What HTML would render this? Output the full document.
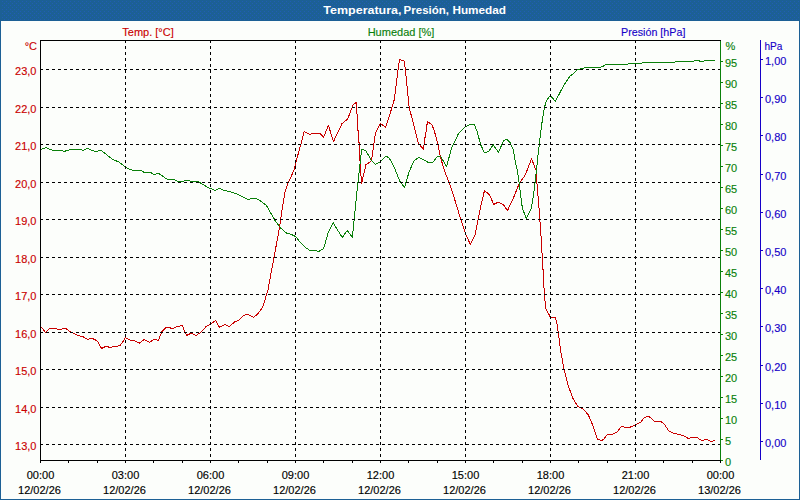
<!DOCTYPE html>
<html><head><meta charset="utf-8"><title>Temperatura, Presión, Humedad</title>
<style>
html,body{margin:0;padding:0;background:#fcfefb;}
body{width:800px;height:500px;overflow:hidden;position:relative;}
svg{position:absolute;left:0;top:0;display:block;}
text{font-family:"Liberation Sans",sans-serif;font-size:11px;}
.t{font-weight:bold;fill:#fff;}
.r{fill:#ca0000;stroke:#ca0000}.g{fill:#0a800a;stroke:#0a800a}.b{fill:#1600c8;stroke:#1600c8}.k{fill:#000;stroke:#000}
.r,.g,.b,.k{stroke-width:0.14px}
.e{text-anchor:end}.m{text-anchor:middle}
</style></head><body>
<svg width="800" height="500" viewBox="0 0 800 500">
<rect x="0" y="0" width="800" height="500" fill="#fcfefb"/>
<defs><pattern id="dz" x="0" y="1" width="4" height="4" patternUnits="userSpaceOnUse"><rect width="4" height="4" fill="#1c6095"/><rect x="2" y="0" width="1" height="1" fill="#215db4"/><rect x="0" y="2" width="1" height="1" fill="#215db4"/></pattern></defs>
<rect x="0" y="0" width="800" height="21" fill="#1c6095"/>
<rect x="1" y="1" width="798" height="19" fill="url(#dz)" shape-rendering="crispEdges"/>
<rect x="0" y="0" width="1" height="500" fill="#1c6095"/>
<rect x="799" y="0" width="1" height="500" fill="#1c6095"/>
<rect x="0" y="499" width="800" height="1" fill="#1c6095"/>
<g shape-rendering="crispEdges" fill="none" stroke-width="1" stroke-linejoin="round">
<polyline stroke="#ca0000" points="40.5,327.0 41.3,327.2 45.6,332.5 49.6,328.5 56.0,328.5 58.4,329.4 61.6,329.4 63.2,328.5 65.6,328.5 70.4,331.7 77.6,335.2 83.2,336.8 88.0,339.5 91.2,338.1 95.2,339.7 97.9,341.9 101.6,348.5 105.6,346.4 110.4,347.4 115.2,346.4 120.0,345.6 122.4,342.4 125.3,337.6 130.4,340.3 134.4,340.8 139.2,343.2 144.3,339.5 149.6,342.4 153.9,339.2 158.4,340.5 160.0,336.4 161.9,331.6 165.6,327.9 168.8,327.1 171.2,328.4 173.6,328.4 176.8,326.3 179.2,326.3 181.6,325.2 182.7,326.0 184.8,332.4 186.9,335.3 191.2,333.2 196.0,335.6 200.0,332.9 206.4,326.3 210.4,324.4 215.5,320.4 219.5,327.3 224.8,324.4 229.1,326.5 235.2,321.5 238.4,320.4 243.2,315.6 247.2,314.3 253.6,317.4 257.6,314.0 262.4,307.6 264.8,300.4 268.0,290.0 270.4,276.4 274.0,257.4 279.6,227.0 281.4,214.0 284.8,193.0 287.2,185.2 294.0,170.0 296.4,160.4 300.4,146.0 304.1,131.6 310.0,134.5 312.4,133.2 319.6,133.2 323.6,137.2 328.4,125.5 333.5,141.5 342.0,123.6 347.6,119.1 353.2,104.7 356.4,102.5 357.7,126.8 359.3,146.0 360.2,165.0 361.6,183.5 365.9,164.8 371.4,160.8 372.6,153.2 374.4,140.0 375.6,132.4 380.4,123.6 385.5,127.2 390.4,112.5 394.3,99.6 397.5,74.0 399.6,59.3 404.4,61.2 406.0,75.6 409.2,107.6 413.6,124.2 418.4,143.4 423.5,149.3 424.6,140.0 426.3,130.0 427.4,121.6 431.8,124.6 433.9,129.5 437.4,142.0 440.5,157.6 444.6,171.0 450.4,186.0 456.0,203.6 460.8,219.6 465.6,234.0 470.4,244.4 474.9,235.3 478.4,218.0 481.9,201.2 484.5,190.5 489.6,194.8 493.6,204.4 497.9,202.3 503.2,204.4 507.5,210.5 512.8,199.6 519.2,183.6 525.4,174.8 531.5,158.7 536.0,170.2 536.8,181.2 539.2,210.0 541.1,237.2 541.9,251.2 542.9,267.2 543.7,283.2 544.5,294.4 545.6,308.0 550.4,317.3 555.2,317.3 556.8,322.6 558.4,333.8 560.8,351.4 564.0,369.0 566.4,378.6 568.4,386.2 573.2,399.0 578.0,406.7 583.6,409.4 588.4,415.0 593.2,426.2 597.2,439.0 601.2,440.6 603.6,439.5 607.3,434.5 612.4,434.2 617.2,431.8 621.7,426.2 625.2,427.3 630.0,427.3 635.6,424.6 640.9,422.2 644.4,417.4 648.9,416.3 654.6,421.4 660.4,421.4 663.6,423.2 668.8,430.8 674.0,433.5 679.6,434.6 684.4,436.2 688.4,438.6 691.6,437.3 696.4,437.3 702.0,440.5 706.0,439.4 711.6,441.5 714.8,440.2"/>
<polyline stroke="#0a800a" points="40.5,149.6 41.3,149.4 46.1,147.5 49.6,149.4 52.8,150.2 60.8,150.2 64.0,151.5 67.2,150.5 72.0,149.4 80.0,149.4 82.9,150.5 87.2,148.3 92.0,150.5 96.8,151.5 100.8,150.2 104.0,152.6 112.0,159.0 119.2,162.2 125.6,167.0 129.6,169.4 134.4,170.5 140.8,170.5 144.0,172.3 150.4,172.3 153.9,174.5 158.4,173.4 161.9,175.6 167.2,179.3 173.6,179.3 178.4,181.5 182.4,182.0 185.6,180.1 188.5,180.1 191.2,181.5 197.6,181.5 201.6,183.6 208.0,187.6 215.2,190.3 219.5,188.1 224.0,190.5 229.6,191.6 236.0,193.5 241.6,196.4 247.2,199.3 249.6,199.3 252.8,198.0 256.0,198.5 260.8,201.2 266.4,205.5 270.6,212.8 275.4,221.0 281.2,228.6 286.5,233.1 291.6,234.5 295.6,236.6 299.6,241.4 306.0,247.8 310.0,250.5 315.6,250.5 318.8,251.5 323.6,248.6 328.4,231.8 333.2,222.7 337.2,229.4 342.3,237.4 347.3,230.5 352.4,237.4 354.2,219.5 356.0,200.8 357.9,183.2 360.0,164.0 361.6,149.4 365.8,150.4 368.8,156.0 371.5,160.6 375.6,164.3 380.5,161.8 386.2,156.0 389.4,158.2 395.2,169.6 400.0,181.6 404.5,187.5 408.8,172.8 413.8,161.0 418.8,157.2 428.0,162.3 432.8,162.3 437.6,156.2 440.8,156.7 446.6,166.4 451.6,148.0 458.4,133.8 465.6,126.6 470.4,124.2 474.4,124.5 476.8,130.6 480.8,145.0 484.5,153.0 488.8,151.4 493.1,144.7 498.4,152.2 503.6,140.8 506.8,139.0 510.2,142.8 513.4,150.2 515.4,162.2 517.6,172.0 519.2,183.6 522.4,208.4 526.4,218.5 531.5,207.6 534.4,188.4 536.3,172.0 537.6,159.0 540.0,138.2 542.4,119.5 544.6,106.8 546.6,100.6 550.4,95.4 555.4,101.4 563.2,86.4 569.6,76.5 572.8,74.1 577.6,69.6 586.4,67.5 599.2,67.5 603.2,66.1 606.4,64.5 627.2,64.5 628.8,63.5 641.6,63.5 643.2,62.4 674.4,62.4 676.0,61.4 693.6,61.4 695.2,60.4 698.4,60.4 700.0,61.4 703.2,61.4 704.8,60.4 714.9,60.4"/>
</g>
<g shape-rendering="crispEdges" stroke="#000" stroke-width="1" stroke-dasharray="3 3" fill="none">
<line x1="40" y1="69.5" x2="721" y2="69.5"/>
<line x1="40" y1="107.5" x2="721" y2="107.5"/>
<line x1="40" y1="144.5" x2="721" y2="144.5"/>
<line x1="40" y1="182.5" x2="721" y2="182.5"/>
<line x1="40" y1="219.5" x2="721" y2="219.5"/>
<line x1="40" y1="257.5" x2="721" y2="257.5"/>
<line x1="40" y1="294.5" x2="721" y2="294.5"/>
<line x1="40" y1="332.5" x2="721" y2="332.5"/>
<line x1="40" y1="369.5" x2="721" y2="369.5"/>
<line x1="40" y1="407.5" x2="721" y2="407.5"/>
<line x1="40" y1="444.5" x2="721" y2="444.5"/>
<line x1="125.5" y1="40" x2="125.5" y2="460"/>
<line x1="210.5" y1="40" x2="210.5" y2="460"/>
<line x1="295.5" y1="40" x2="295.5" y2="460"/>
<line x1="380.5" y1="40" x2="380.5" y2="460"/>
<line x1="465.5" y1="40" x2="465.5" y2="460"/>
<line x1="550.5" y1="40" x2="550.5" y2="460"/>
<line x1="635.5" y1="40" x2="635.5" y2="460"/>
</g>
<g shape-rendering="crispEdges">
<rect x="40" y="40" width="1" height="423" fill="#000"/>
<rect x="40" y="40" width="681" height="1" fill="#000"/>
<rect x="40" y="460" width="681" height="1" fill="#000"/>
<rect x="40" y="460" width="1" height="3" fill="#000"/>
<rect x="68" y="460" width="1" height="3" fill="#000"/>
<rect x="97" y="460" width="1" height="3" fill="#000"/>
<rect x="125" y="460" width="1" height="3" fill="#000"/>
<rect x="153" y="460" width="1" height="3" fill="#000"/>
<rect x="182" y="460" width="1" height="3" fill="#000"/>
<rect x="210" y="460" width="1" height="3" fill="#000"/>
<rect x="238" y="460" width="1" height="3" fill="#000"/>
<rect x="267" y="460" width="1" height="3" fill="#000"/>
<rect x="295" y="460" width="1" height="3" fill="#000"/>
<rect x="323" y="460" width="1" height="3" fill="#000"/>
<rect x="352" y="460" width="1" height="3" fill="#000"/>
<rect x="380" y="460" width="1" height="3" fill="#000"/>
<rect x="408" y="460" width="1" height="3" fill="#000"/>
<rect x="437" y="460" width="1" height="3" fill="#000"/>
<rect x="465" y="460" width="1" height="3" fill="#000"/>
<rect x="493" y="460" width="1" height="3" fill="#000"/>
<rect x="522" y="460" width="1" height="3" fill="#000"/>
<rect x="550" y="460" width="1" height="3" fill="#000"/>
<rect x="578" y="460" width="1" height="3" fill="#000"/>
<rect x="607" y="460" width="1" height="3" fill="#000"/>
<rect x="635" y="460" width="1" height="3" fill="#000"/>
<rect x="663" y="460" width="1" height="3" fill="#000"/>
<rect x="692" y="460" width="1" height="3" fill="#000"/>
<rect x="720" y="460" width="1" height="3" fill="#000"/>
<rect x="720" y="41" width="1" height="419" fill="#0a800a"/>
<rect x="721" y="460" width="2" height="1" fill="#0a800a"/>
<rect x="721" y="439" width="2" height="1" fill="#0a800a"/>
<rect x="721" y="418" width="2" height="1" fill="#0a800a"/>
<rect x="721" y="397" width="2" height="1" fill="#0a800a"/>
<rect x="721" y="376" width="2" height="1" fill="#0a800a"/>
<rect x="721" y="355" width="2" height="1" fill="#0a800a"/>
<rect x="721" y="334" width="2" height="1" fill="#0a800a"/>
<rect x="721" y="313" width="2" height="1" fill="#0a800a"/>
<rect x="721" y="292" width="2" height="1" fill="#0a800a"/>
<rect x="721" y="271" width="2" height="1" fill="#0a800a"/>
<rect x="721" y="250" width="2" height="1" fill="#0a800a"/>
<rect x="721" y="229" width="2" height="1" fill="#0a800a"/>
<rect x="721" y="208" width="2" height="1" fill="#0a800a"/>
<rect x="721" y="187" width="2" height="1" fill="#0a800a"/>
<rect x="721" y="166" width="2" height="1" fill="#0a800a"/>
<rect x="721" y="145" width="2" height="1" fill="#0a800a"/>
<rect x="721" y="124" width="2" height="1" fill="#0a800a"/>
<rect x="721" y="103" width="2" height="1" fill="#0a800a"/>
<rect x="721" y="82" width="2" height="1" fill="#0a800a"/>
<rect x="721" y="61" width="2" height="1" fill="#0a800a"/>
<rect x="760" y="40" width="1" height="420" fill="#1600c8"/>
<rect x="761" y="441" width="2" height="1" fill="#1600c8"/>
<rect x="761" y="403" width="2" height="1" fill="#1600c8"/>
<rect x="761" y="365" width="2" height="1" fill="#1600c8"/>
<rect x="761" y="326" width="2" height="1" fill="#1600c8"/>
<rect x="761" y="288" width="2" height="1" fill="#1600c8"/>
<rect x="761" y="250" width="2" height="1" fill="#1600c8"/>
<rect x="761" y="212" width="2" height="1" fill="#1600c8"/>
<rect x="761" y="174" width="2" height="1" fill="#1600c8"/>
<rect x="761" y="135" width="2" height="1" fill="#1600c8"/>
<rect x="761" y="97" width="2" height="1" fill="#1600c8"/>
<rect x="761" y="59" width="2" height="1" fill="#1600c8"/>
</g>
<text class="t" transform="translate(323.3 14) scale(1.136 1)">Temperatura,</text>
<text class="t" transform="translate(403.6 14) scale(1.047 1)">Presión,</text>
<text class="t" transform="translate(452.4 14) scale(1.07 1)">Humedad</text>
<text class="r m" x="148" y="36">Temp. [°C]</text>
<text class="g m" x="401" y="36">Humedad [%]</text>
<text class="b m" transform="translate(653.2 36) scale(0.975 1)">Presión [hPa]</text>
<text class="r e" x="37" y="50">°C</text>
<text class="g" x="725.5" y="50">%</text>
<text class="b" transform="translate(764.4 50) scale(0.92 1)">hPa</text>
<text class="r e" x="36.5" y="75">23,0</text>
<text class="r e" x="36.5" y="113">22,0</text>
<text class="r e" x="36.5" y="150">21,0</text>
<text class="r e" x="36.5" y="188">20,0</text>
<text class="r e" x="36.5" y="225">19,0</text>
<text class="r e" x="36.5" y="263">18,0</text>
<text class="r e" x="36.5" y="300">17,0</text>
<text class="r e" x="36.5" y="338">16,0</text>
<text class="r e" x="36.5" y="375">15,0</text>
<text class="r e" x="36.5" y="413">14,0</text>
<text class="r e" x="36.5" y="450">13,0</text>
<text class="g" x="725" y="466">0</text>
<text class="g" x="725" y="445">5</text>
<text class="g" x="725" y="424">10</text>
<text class="g" x="725" y="403">15</text>
<text class="g" x="725" y="382">20</text>
<text class="g" x="725" y="361">25</text>
<text class="g" x="725" y="340">30</text>
<text class="g" x="725" y="319">35</text>
<text class="g" x="725" y="298">40</text>
<text class="g" x="725" y="277">45</text>
<text class="g" x="725" y="256">50</text>
<text class="g" x="725" y="235">55</text>
<text class="g" x="725" y="214">60</text>
<text class="g" x="725" y="193">65</text>
<text class="g" x="725" y="172">70</text>
<text class="g" x="725" y="151">75</text>
<text class="g" x="725" y="130">80</text>
<text class="g" x="725" y="109">85</text>
<text class="g" x="725" y="88">90</text>
<text class="g" x="725" y="67">95</text>
<text class="b" x="765" y="447">0,00</text>
<text class="b" x="765" y="409">0,10</text>
<text class="b" x="765" y="371">0,20</text>
<text class="b" x="765" y="332">0,30</text>
<text class="b" x="765" y="294">0,40</text>
<text class="b" x="765" y="256">0,50</text>
<text class="b" x="765" y="218">0,60</text>
<text class="b" x="765" y="180">0,70</text>
<text class="b" x="765" y="141">0,80</text>
<text class="b" x="765" y="103">0,90</text>
<text class="b" x="765" y="65">1,00</text>
<text class="k m" x="40.5" y="479">00:00</text>
<text class="k m" x="39.5" y="494">12/02/26</text>
<text class="k m" x="125.5" y="479">03:00</text>
<text class="k m" x="124.5" y="494">12/02/26</text>
<text class="k m" x="210.5" y="479">06:00</text>
<text class="k m" x="209.5" y="494">12/02/26</text>
<text class="k m" x="295.5" y="479">09:00</text>
<text class="k m" x="294.5" y="494">12/02/26</text>
<text class="k m" x="380.5" y="479">12:00</text>
<text class="k m" x="379.5" y="494">12/02/26</text>
<text class="k m" x="465.5" y="479">15:00</text>
<text class="k m" x="464.5" y="494">12/02/26</text>
<text class="k m" x="550.5" y="479">18:00</text>
<text class="k m" x="549.5" y="494">12/02/26</text>
<text class="k m" x="635.5" y="479">21:00</text>
<text class="k m" x="634.5" y="494">12/02/26</text>
<text class="k m" x="720.5" y="479">00:00</text>
<text class="k m" x="719.5" y="494">13/02/26</text>
</svg>
</body></html>
